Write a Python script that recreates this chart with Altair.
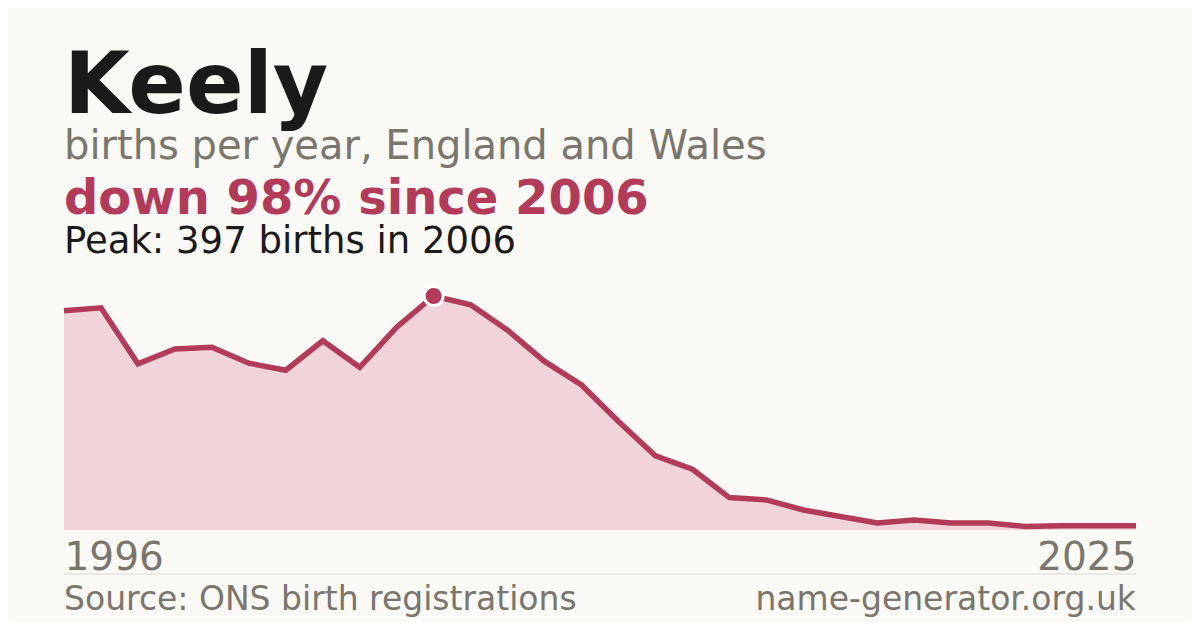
import altair as alt
import pandas as pd

# ---- data ----
years = list(range(1996, 2026))
births = [372, 377, 282, 307, 310, 283, 271, 321, 276, 344,
          397, 382, 339, 286, 246, 184, 126, 103, 55, 51,
          34, 23, 12, 17, 12, 12, 6, 7, 7, 7]
axis_years = [1996, 2025]

TITLE = "Keely"
SUBTITLE = "births per year, England and Wales"
HEADLINE = "down 98% since 2006"
PEAK_TEXT = "Peak: 397 births in 2006"
SOURCE = "Source: ONS birth registrations"
SITE = "name-generator.org.uk"

RED = "#b33a58"
FILL = "#f0d4da"
GREY = "#7a756d"
INK = "#1a1a1a"
BG = "#faf9f5"
FONT = "DejaVu Sans"

df = pd.DataFrame({"year": years, "births": births})

W, H = 1072, 234

x = alt.X("year:Q",
          scale=alt.Scale(domain=[1996, 2025], nice=False, zero=False),
          axis=alt.Axis(values=axis_years, format="d", labelFlush=True,
                        labelFontSize=39, labelColor=GREY, labelFont=FONT,
                        labelBaseline="alphabetic", labelPadding=39,
                        domain=False, ticks=False, grid=False, title=None))
y = alt.Y("births:Q", scale=alt.Scale(domain=[0, 397], nice=False), axis=None)

base = alt.Chart(df)
area = base.mark_area(color=FILL, opacity=1).encode(x=x, y=y)
line = base.mark_line(color=RED, strokeWidth=5.5, strokeCap="butt",
                      strokeJoin="miter").encode(x=x, y=y)
peak = base.mark_point(filled=True, shape="circle", size=361, color=RED,
                       stroke="white", strokeWidth=3, opacity=1,
                       strokeOpacity=1).encode(
    x=x, y=y).transform_filter(alt.datum.births == max(births))


def label(text, px, py, size, color, weight="normal", align="left"):
    return alt.Chart(pd.DataFrame({"t": [text]})).mark_text(
        align=align, baseline="alphabetic", font=FONT, fontSize=size,
        fontWeight=weight, color=color
    ).encode(text="t:N", x=alt.value(px), y=alt.value(py))


t1 = label(TITLE, 0, -183, 85, INK, "bold")
t2 = label(SUBTITLE, 0, -137, 40, GREY)
t3 = label(HEADLINE, 0, -82, 48, RED, "bold")
t4 = label(PEAK_TEXT, 0, -43, 37, INK)
src = label(SOURCE, 0, 314, 33, GREY)
site = label(SITE, W, 314, 33, GREY, align="right")

sep = alt.Chart(pd.DataFrame({"a": [0]})).mark_rule(
    color="#dcd9d1", strokeWidth=1).encode(
    x=alt.value(0), x2=alt.value(W), y=alt.value(278))

chart = alt.layer(area, line, peak, sep, t1, t2, t3, t4, src, site).properties(
    width=W, height=H,
    background=BG,
    padding={"left": 56, "top": 288, "right": 56, "bottom": 92},
    autosize=alt.AutoSizeParams(type="none"),
).configure_view(stroke=None)

chart.save("out.html", embed_options={"renderer": "svg", "actions": False})
